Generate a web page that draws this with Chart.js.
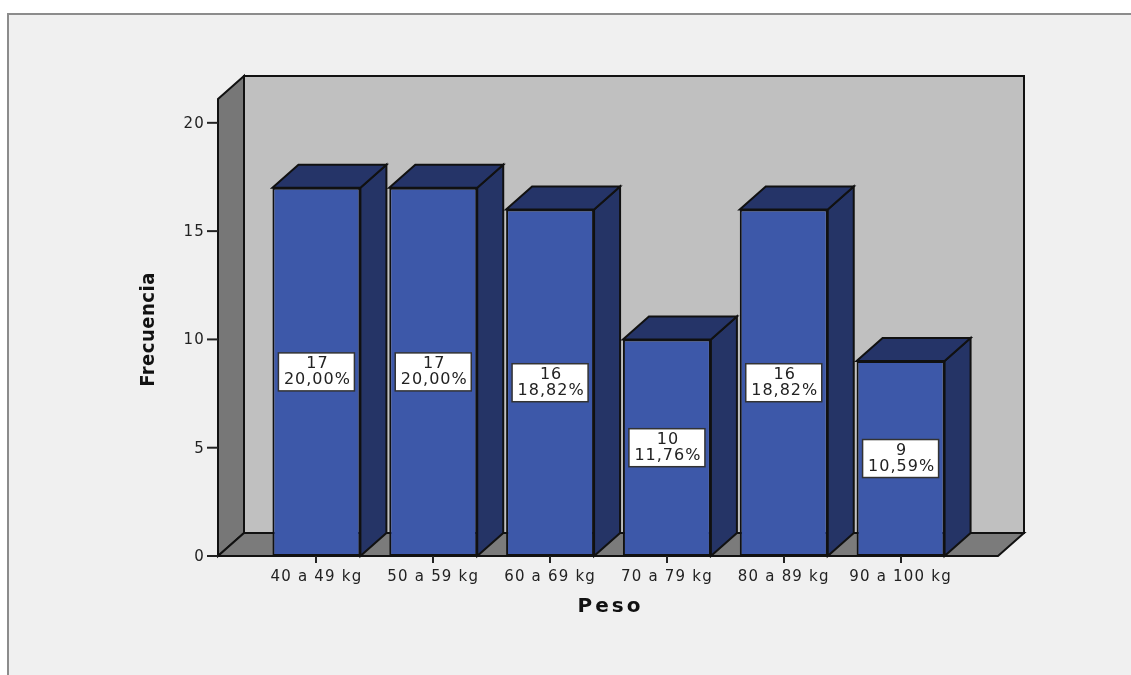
<!DOCTYPE html>
<html>
<head>
<meta charset="utf-8">
<script src="https://cdn.jsdelivr.net/npm/chart.js@4.4.0/dist/chart.umd.min.js"></script>
<style>
  html, body { margin: 0; padding: 0; background: #fff; }
  #wrap { width: 1131px; height: 675px; }
</style>
</head>
<body>
<div id="wrap"><canvas id="pesoChart" width="1131" height="675"></canvas></div>
<script>
const categorias = ['40 a 49 kg', '50 a 59 kg', '60 a 69 kg', '70 a 79 kg', '80 a 89 kg', '90 a 100 kg'];
const frecuencias = [17, 17, 16, 10, 16, 9];
const porcentajes = ['20,00%', '20,00%', '18,82%', '11,76%', '18,82%', '10,59%'];
const ticksY = [0, 5, 10, 15, 20];
const yMax = 21.1;
const tituloX = 'Peso';
const tituloY = 'Frecuencia';

// profundidad del efecto 3D
const DX = 26, DY = 23;
const FUENTE = '"DejaVu Sans", Verdana, sans-serif';

function poly(ctx, pts, fill) {
  ctx.beginPath();
  ctx.moveTo(pts[0][0], pts[0][1]);
  for (let i = 1; i < pts.length; i++) ctx.lineTo(pts[i][0], pts[i][1]);
  ctx.closePath();
  ctx.fillStyle = fill;
  ctx.fill();
  ctx.stroke();
}

const caja3d = {
  id: 'caja3d',
  beforeDraw(chart) {
    const ctx = chart.ctx;
    const { left, right, top, bottom } = chart.chartArea;
    ctx.letterSpacing = '1.2px';
    ctx.save();
    ctx.fillStyle = '#fff';
    ctx.fillRect(0, 0, chart.width, chart.height);
    ctx.fillStyle = '#f0f0f0';
    ctx.fillRect(9, 15, chart.width, chart.height);
    ctx.strokeStyle = '#8c8c8c';
    ctx.lineWidth = 2;
    ctx.beginPath();
    ctx.moveTo(8, chart.height);
    ctx.lineTo(8, 14);
    ctx.lineTo(chart.width, 14);
    ctx.stroke();

    const x0 = left - 40, x1 = right + 39;
    ctx.strokeStyle = '#111';
    ctx.lineWidth = 2;
    // pared del fondo
    poly(ctx, [[x0 + DX, top - DY], [x1 + DX, top - DY], [x1 + DX, bottom - DY], [x0 + DX, bottom - DY]], '#c0c0c0');
    // pared lateral
    poly(ctx, [[x0, top], [x0 + DX, top - DY], [x0 + DX, bottom - DY], [x0, bottom]], '#777777');
    // suelo
    poly(ctx, [[x0, bottom], [x0 + DX, bottom - DY], [x1 + DX, bottom - DY], [x1, bottom]], '#7b7b7b');
    ctx.restore();
  },
  beforeDatasetsDraw(chart) {
    const ctx = chart.ctx;
    ctx.save();
    ctx.strokeStyle = '#111';
    ctx.lineWidth = 2;
    chart.getDatasetMeta(0).data.forEach((bar) => {
      const l = bar.x - bar.width / 2, r = bar.x + bar.width / 2;
      poly(ctx, [[r, bar.y], [r + DX, bar.y - DY], [r + DX, bar.base - DY], [r, bar.base]], '#253466');
      poly(ctx, [[l, bar.y], [l + DX, bar.y - DY], [r + DX, bar.y - DY], [r, bar.y]], '#253468');
    });
    ctx.restore();
  },
  afterDatasetsDraw(chart) {
    const ctx = chart.ctx;
    const { left, right, top, bottom } = chart.chartArea;
    const yScale = chart.scales.y;
    ctx.save();
    // etiquetas de valor
    ctx.font = '16px ' + FUENTE;
    ctx.letterSpacing = '1px';
    ctx.textAlign = 'center';
    ctx.textBaseline = 'middle';
    chart.getDatasetMeta(0).data.forEach((bar, i) => {
      const cy = (bar.y + bar.base) / 2;
      const w = Math.max(ctx.measureText(porcentajes[i]).width, ctx.measureText(String(frecuencias[i])).width) + 9;
      const h = 38;
      ctx.fillStyle = '#fff';
      ctx.strokeStyle = '#333';
      ctx.lineWidth = 1.5;
      ctx.fillRect(bar.x - w / 2, cy - h / 2, w, h);
      ctx.strokeRect(bar.x - w / 2, cy - h / 2, w, h);
      ctx.fillStyle = '#222';
      ctx.fillText(String(frecuencias[i]), bar.x + 1, cy - 8);
      ctx.fillText(porcentajes[i], bar.x + 1, cy + 8);
    });

    // eje Y
    const x0 = left - 40;
    ctx.strokeStyle = '#222';
    ctx.lineWidth = 2;
    ctx.font = '15px ' + FUENTE;
    ctx.letterSpacing = '1.2px';
    ctx.textAlign = 'right';
    ctx.fillStyle = '#222';
    ticksY.forEach((v) => {
      const py = yScale.getPixelForValue(v);
      ctx.beginPath();
      ctx.moveTo(x0 - 11, py);
      ctx.lineTo(x0, py);
      ctx.stroke();
      ctx.fillText(String(v), x0 - 13, py + 1);
    });

    // títulos
    ctx.fillStyle = '#111';
    ctx.textAlign = 'center';
    ctx.font = 'bold 20px ' + FUENTE;
    ctx.letterSpacing = '3px';
    ctx.fillText(tituloX, (left + right) / 2 + 2, bottom + 51);
    ctx.translate(149, (top + bottom) / 2 + 2);
    ctx.rotate(-Math.PI / 2);
    ctx.font = 'bold 20px "Liberation Sans Narrow", "DejaVu Sans Condensed", sans-serif';
    ctx.letterSpacing = '0.5px';
    ctx.fillText(tituloY, 0, 0);
    ctx.restore();
  }
};

const ctx = document.getElementById('pesoChart').getContext('2d');
new Chart(ctx, {
  type: 'bar',
  data: {
    labels: categorias,
    datasets: [{
      label: tituloY,
      data: frecuencias,
      backgroundColor: '#3d58a9',
      borderColor: '#111',
      borderWidth: 2,
      borderSkipped: false,
      barPercentage: 0.753,
      categoryPercentage: 1.0,
    }],
  },
  options: {
    responsive: false,
    animation: false,
    devicePixelRatio: 1,
    layout: { padding: { left: 258, right: 172, top: 99, bottom: 84 } },
    plugins: { legend: { display: false }, tooltip: { enabled: false } },
    scales: {
      x: {
        grid: { display: true, drawOnChartArea: false, drawTicks: true, tickLength: 7, color: '#222', lineWidth: 2, offset: false },
        border: { display: false },
        ticks: { font: { family: FUENTE, size: 15 }, color: '#222', padding: 5, maxRotation: 0, autoSkip: false },
      },
      y: {
        display: false,
        min: 0,
        max: yMax,
      },
    },
  },
  plugins: [caja3d],
});
</script>
</body>
</html>
